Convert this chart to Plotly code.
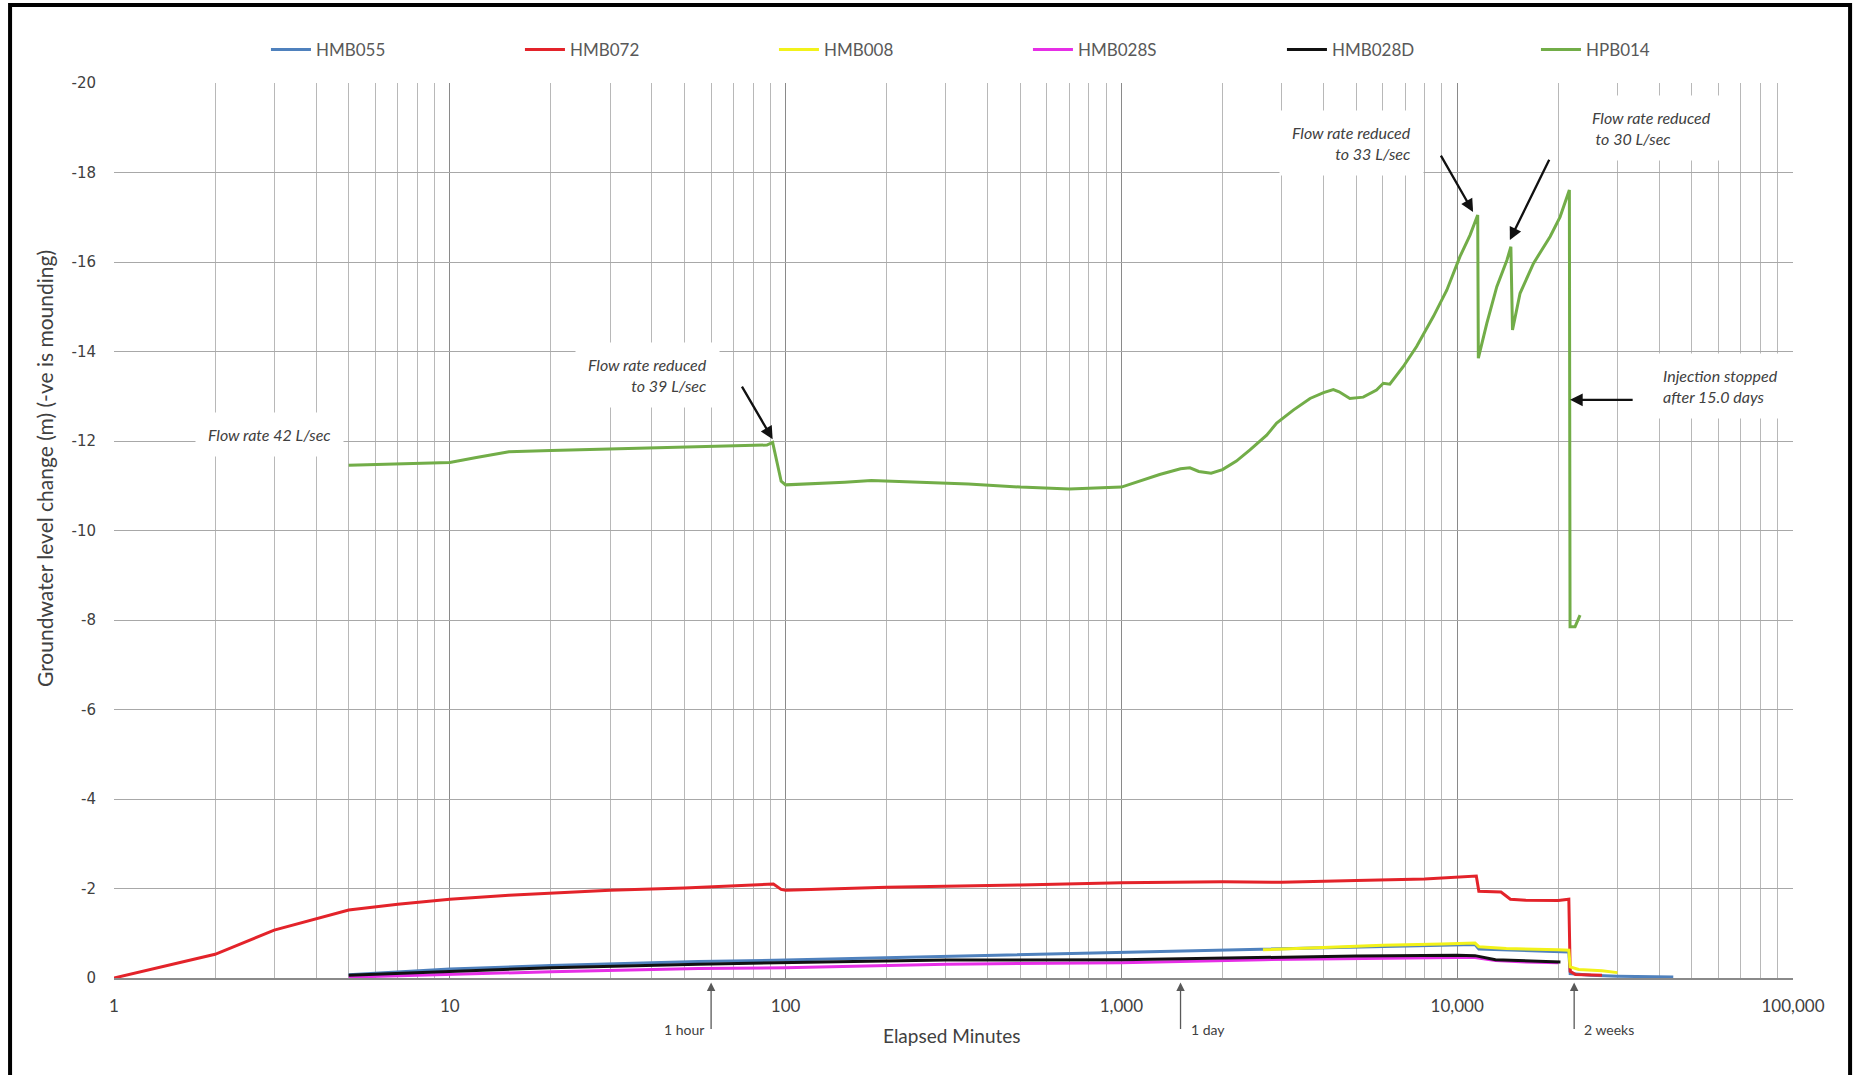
import math
import plotly.graph_objects as go

# Elapsed time since start of injection (minutes) and groundwater level change (m).
# Negative values indicate mounding.
t_hmb055 = [5, 7, 10, 20, 30, 55, 100, 200, 300, 500, 1000, 2000, 2640, 4000, 7000,
            10000, 11300, 11600, 15000, 20000, 21500, 21700, 25000, 30000, 44000]
v_hmb055 = [-0.07, -0.14, -0.2, -0.28, -0.32, -0.37, -0.40, -0.45, -0.48, -0.51, -0.56,
            -0.61, -0.63, -0.67, -0.71, -0.74, -0.75, -0.65, -0.62, -0.58, -0.58, -0.1,
            -0.06, -0.04, -0.02]

t_hmb072 = [1, 2, 3, 4, 5, 7, 10, 15, 20, 30, 50, 80, 92, 97, 100, 150, 200, 500, 1000,
            2000, 3000, 5000, 8000, 11400, 11600, 13500, 14400, 16000, 20000, 21500,
            21700, 22500, 27000]
v_hmb072 = [0, -0.53, -1.07, -1.32, -1.52, -1.65, -1.76, -1.85, -1.90, -1.96, -2.01,
            -2.07, -2.10, -1.98, -1.96, -2.0, -2.03, -2.08, -2.13, -2.15, -2.14, -2.18,
            -2.21, -2.28, -1.94, -1.92, -1.76, -1.74, -1.73, -1.76, -0.15, -0.08, -0.06]

t_hmb008 = [2640, 4000, 6000, 9000, 11300, 11600, 14000, 20000, 21500, 21700, 23000,
            27000, 30000]
v_hmb008 = [-0.63, -0.68, -0.73, -0.76, -0.78, -0.70, -0.66, -0.63, -0.62, -0.25, -0.19,
            -0.16, -0.12]

t_hmb028s = [5, 10, 20, 55, 100, 300, 1000, 2640, 5000, 10000, 11300, 13000, 16000, 20000]
v_hmb028s = [-0.02, -0.08, -0.14, -0.21, -0.23, -0.31, -0.34, -0.41, -0.44, -0.46, -0.46,
             -0.39, -0.36, -0.34]

t_hmb028d = [5, 10, 20, 55, 100, 300, 1000, 2640, 5000, 10000, 11300, 13000, 16000, 20300]
v_hmb028d = [-0.06, -0.15, -0.23, -0.31, -0.34, -0.40, -0.41, -0.46, -0.49, -0.51, -0.50,
             -0.41, -0.38, -0.36]

t_hpb014 = [5, 7, 10, 12, 15, 20, 30, 50, 70, 88, 91.5, 94, 97, 100, 120, 150, 180, 250,
            350, 500, 700, 1000, 1150, 1300, 1500, 1600, 1700, 1850, 2000, 2200, 2415,
            2708, 2900, 3250, 3645, 4000, 4276, 4450, 4790, 5250, 5750, 6025, 6300, 6905,
            7570, 8490, 9310, 10190, 10920, 11510, 11560, 12250, 13120, 14060, 14450,
            14610, 15390, 16870, 18920, 20250, 21580, 21680, 22440, 23220]
v_hpb014 = [-11.46, -11.49, -11.52, -11.63, -11.76, -11.79, -11.82, -11.86, -11.88,
            -11.91, -11.97, -11.6, -11.1, -11.02, -11.04, -11.08, -11.12, -11.08, -11.04,
            -10.97, -10.93, -10.97, -11.12, -11.25, -11.38, -11.40, -11.32, -11.28,
            -11.36, -11.55, -11.80, -12.13, -12.40, -12.69, -12.95, -13.08, -13.15,
            -13.10, -12.95, -12.98, -13.14, -13.29, -13.27, -13.66, -14.11, -14.78,
            -15.37, -16.12, -16.60, -17.05, -13.85, -14.63, -15.45, -16.04, -16.34,
            -14.48, -15.30, -15.97, -16.57, -17.01, -17.61, -7.85, -7.85, -8.11]

series_names = ["HMB055", "HMB072", "HMB008", "HMB028S", "HMB028D", "HPB014"]
series_t = [t_hmb055, t_hmb072, t_hmb008, t_hmb028s, t_hmb028d, t_hpb014]
series_v = [v_hmb055, v_hmb072, v_hmb008, v_hmb028s, v_hmb028d, v_hpb014]
series_colors = ["#4f81bd", "#e3232a", "#f2f21a", "#e62ee6", "#111111", "#72ad48"]

x_tick_vals = [1, 10, 100, 1000, 10000, 100000]
x_tick_text = ["1", "10", "100", "1,000", "10,000", "100,000"]
y_tick_vals = [-20, -18, -16, -14, -12, -10, -8, -6, -4, -2, 0]
y_tick_text = ["-20", "-18", "-16", "-14", "-12", "-10", "-8", "-6", "-4", "-2", "0"]

# Reference times marked below the axis (minutes)
marker_labels = ["1 hour", "1 day", "2 weeks"]
marker_times = [60, 1500, 22300]

FONT = "Lato, 'Open Sans', sans-serif"

fig = go.Figure()
for name, t, v, col in zip(series_names, series_t, series_v, series_colors):
    fig.add_trace(go.Scatter(x=t, y=v, mode="lines", name=name,
                             line=dict(color=col, width=3)))

minor_vals = [m * 10 ** d for d in range(5) for m in range(2, 10)]

fig.update_layout(
    width=1859, height=1075, autosize=False,
    margin=dict(l=114, r=66, t=83, b=97, pad=0),
    paper_bgcolor="white", plot_bgcolor="white",
    font=dict(family=FONT, color="#404040"),
    showlegend=True,
    legend=dict(orientation="h", x=0.0905, xanchor="left", y=1.037, yanchor="middle",
                font=dict(size=17, color="#595959", family=FONT),
                itemwidth=40,
                entrywidth=199, entrywidthmode="pixels", bgcolor="rgba(0,0,0,0)",
                traceorder="normal"),
    xaxis=dict(type="log", range=[0, 5], tickmode="array", tickvals=x_tick_vals,
               ticktext=x_tick_text, showgrid=True, gridcolor="#8a8a8a", gridwidth=1,
               minor=dict(tickvals=minor_vals, showgrid=True, gridcolor="#b8b8b8",
                          gridwidth=1, ticks=""),
               ticks="outside", ticklen=12, tickcolor="rgba(0,0,0,0)",
               tickfont=dict(size=17, color="#404040", family=FONT),
               showline=True, linecolor="#8a8a8a", linewidth=2, zeroline=False),
    yaxis=dict(range=[0, -20], tickmode="array", tickvals=y_tick_vals,
               ticktext=y_tick_text, showgrid=True, gridcolor="#a8a8a8", gridwidth=1,
               ticks="outside", ticklen=14, tickcolor="rgba(0,0,0,0)",
               tickfont=dict(size=15, color="#404040", family="DejaVu Sans"),
               zeroline=False, showline=False),
)

annotations = []

# Axis titles
annotations.append(dict(text="Groundwater level change (m) (-ve is mounding)",
                        xref="paper", yref="paper", x=-0.0417, y=0.5698, textangle=-90,
                        showarrow=False, xanchor="center", yanchor="middle",
                        font=dict(size=21, color="#404040", family=FONT)))
annotations.append(dict(text="Elapsed Minutes", xref="paper", yref="paper",
                        x=0.4991, y=-0.0648, showarrow=False,
                        xanchor="center", yanchor="middle",
                        font=dict(size=19, color="#404040", family=FONT)))

# Text call-outs with white boxes
note_font = dict(size=16, color="#404040", family=FONT)
callouts = [
    ("<i>Flow rate 42 L/sec</i>", 0.0929, 0.6078, "center", "center"),
    ("<i>Flow rate reduced<br>to 39 L/sec</i>", 0.3609, 0.6737, "right", "right"),
    ("<i>Flow rate reduced<br>to 33 L/sec</i>", 0.7805, 0.9330, "right", "right"),
    ("<i>Flow rate reduced<br> to 30 L/sec</i>", 0.8725, 0.9497, "left", "left"),
    ("<i>Injection stopped<br>after 15.0 days</i>", 0.9148, 0.6609, "left", "left"),
]
for text, x, y, xanchor, align in callouts:
    annotations.append(dict(text=text, xref="paper", yref="paper", x=x, y=y,
                            xanchor=xanchor, yanchor="middle", align=align,
                            showarrow=False, bgcolor="white", borderpad=12,
                            font=note_font))

# Black arrows pointing at the flow changes (head time, head level, tail time, tail level)
arrows = [
    (91.5, -12.04, 73.7, -13.25),
    (11150, -17.12, 8890, -18.41),
    (14350, -16.49, 18890, -18.32),
    (21680, -12.92, 33650, -12.92),
]
for tx, ty, sx, sy in arrows:
    annotations.append(dict(x=math.log10(tx), y=ty, ax=math.log10(sx), ay=sy,
                            xref="x", yref="y", axref="x", ayref="y", text="",
                            showarrow=True, arrowhead=2, arrowsize=1.1, arrowwidth=2.3,
                            arrowcolor="#111111"))

# Time reference markers under the axis
for label, tm in zip(marker_labels, marker_times):
    annotations.append(dict(x=math.log10(tm), y=-0.005, xref="x", yref="paper",
                            ax=0, ay=48, axref="pixel", ayref="pixel", text="",
                            showarrow=True, arrowhead=2, arrowsize=1.3, arrowwidth=1.3,
                            arrowcolor="#595959"))
    right = label == "1 hour"
    annotations.append(dict(x=math.log10(tm), y=-0.057, xref="x", yref="paper",
                            text=label, showarrow=False,
                            xanchor="right" if right else "left", yanchor="middle",
                            xshift=-5 if right else 8,
                            font=dict(size=14, color="#404040", family=FONT)))

fig.update_layout(annotations=annotations)

# Outer frame
fig.add_shape(type="rect", xref="paper", yref="paper", x0=-0.0619, x1=1.0340,
              y0=-0.14, y1=1.0872, line=dict(color="black", width=4),
              fillcolor="rgba(0,0,0,0)", layer="above")

fig.write_html("out.html")
